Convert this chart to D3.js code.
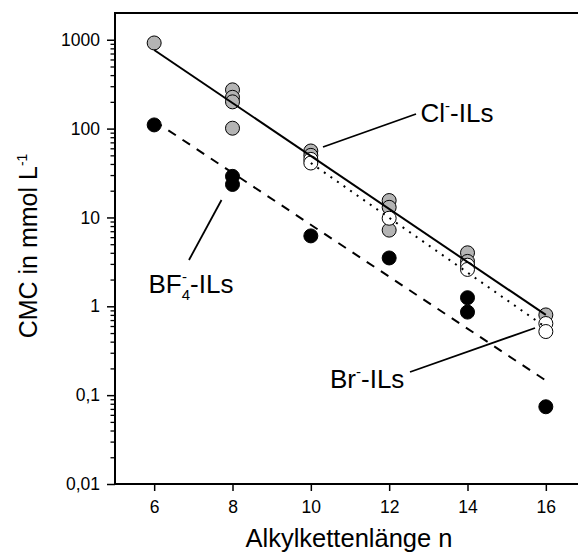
<!DOCTYPE html>
<html><head><meta charset="utf-8">
<script src="https://cdn.jsdelivr.net/npm/d3@7"></script>
<style>
html,body{margin:0;padding:0;background:#fff;}
svg{display:block;font-family:Arial,"Liberation Sans",Helvetica,sans-serif;}
</style></head><body>
<svg id="chart" width="578" height="555"></svg>
<script>
// Alkyl chain length n (x) against CMC in mmol/L (log y)
const xTicks = [6, 8, 10, 12, 14, 16];
const yTicks = [0.01, 0.1, 1, 10, 100, 1000];
const yTickLabels = ["0,01", "0,1", "1", "10", "100", "1000"];

// chloride ILs (grey markers)
const clN   = [6, 8, 8, 8, 8, 10, 10, 12, 12, 12, 14, 14, 16];
const clCMC = [920, 273, 225, 200, 101, 56, 50, 15.5, 13, 7.2, 4.0, 3.2, 0.80];
// bromide ILs (open markers)
const brN   = [10, 10, 12, 14, 14, 16, 16];
const brCMC = [45, 41, 9.8, 2.9, 2.6, 0.64, 0.52];
// tetrafluoroborate ILs (black markers)
const bfN   = [6, 8, 8, 10, 12, 14, 14, 16];
const bfCMC = [110, 29, 23.5, 6.2, 3.5, 1.25, 0.86, 0.074];

// log-linear regression lines (end points)
const clFitN = [6, 16],  clFitCMC = [766, 0.80];
const brFitN = [10, 16], brFitCMC = [41, 0.58];
const bfFitN = [6, 16],  bfFitCMC = [122, 0.146];

const svg = d3.select("#chart");
const pLeft = 115, pRight = 585, pTop = 13, pBottom = 484;

const x = d3.scaleLinear().domain([5, 17]).range([pLeft, pRight]);
const y = d3.scaleLog().domain([0.01, 2000]).range([pBottom, pTop]);

// minor log ticks
const minor = [];
for (let e = -2; e <= 2; e++) {
  for (let k = 2; k <= 9; k++) {
    const v = k * Math.pow(10, e);
    if (v < 1000) minor.push(v);
  }
}

const yMinor = svg.append("g").attr("transform", `translate(${pLeft},0)`)
  .call(d3.axisLeft(y).tickValues(minor).tickSize(4.5).tickFormat(""));
yMinor.select(".domain").remove();
yMinor.selectAll("line").attr("stroke-width", 1.3);

const yAxis = svg.append("g").attr("transform", `translate(${pLeft},0)`)
  .call(d3.axisLeft(y).tickValues(yTicks).tickSize(8).tickPadding(7)
    .tickFormat((d, i) => yTickLabels[i]));
yAxis.select(".domain").remove();
yAxis.selectAll("line").attr("stroke-width", 1.5);
yAxis.selectAll("text").attr("font-size", 17.5).attr("font-family", null).attr("fill", "#000");

const xAxis = svg.append("g").attr("transform", `translate(0,${pBottom})`)
  .call(d3.axisBottom(x).tickValues(xTicks).tickSize(7).tickPadding(9.5));
xAxis.select(".domain").remove();
xAxis.selectAll("line").attr("stroke-width", 1.5);
xAxis.selectAll("text").attr("font-size", 17.5).attr("font-family", null).attr("fill", "#000");

// plot frame
svg.append("rect")
  .attr("x", pLeft).attr("y", pTop)
  .attr("width", pRight - pLeft).attr("height", pBottom - pTop)
  .attr("fill", "none").attr("stroke", "#000").attr("stroke-width", 2);

// markers
function markers(ns, vs, fill) {
  svg.append("g").selectAll("circle")
    .data(ns.map((n, i) => ({ n, v: vs[i] })))
    .join("circle")
    .attr("cx", d => x(d.n)).attr("cy", d => y(d.v)).attr("r", 7)
    .attr("fill", fill).attr("stroke", "#000").attr("stroke-width", 1);
}
markers(clN, clCMC, "#b4b4b4");
markers(brN, brCMC, "#ffffff");
markers(bfN, bfCMC, "#000000");

// regression lines
const line = d3.line().x(d => x(d.n)).y(d => y(d.v));
function fit(ns, vs, dash) {
  svg.append("path")
    .datum(ns.map((n, i) => ({ n, v: vs[i] })))
    .attr("d", line).attr("fill", "none").attr("stroke", "#000")
    .attr("stroke-width", 2).attr("stroke-dasharray", dash);
}
fit(clFitN, clFitCMC, null);
fit(bfFitN, bfFitCMC, "9,8");
fit(brFitN, brFitCMC, "2,6");

// series labels with leader lines
const leaders = [
  [323, 147, 416, 114],
  [221.5, 200, 189, 260],
  [410, 372, 535, 328]
];
svg.append("g").selectAll("line").data(leaders).join("line")
  .attr("x1", d => d[0]).attr("y1", d => d[1])
  .attr("x2", d => d[2]).attr("y2", d => d[3])
  .attr("stroke", "#000").attr("stroke-width", 1.8);

const fs = 26, sfs = 15;
const cl = svg.append("text").attr("x", 420.5).attr("y", 122).attr("font-size", fs);
cl.append("tspan").text("Cl");
cl.append("tspan").attr("font-size", sfs).attr("dy", -11).text("-");
cl.append("tspan").attr("dy", 11).text("-ILs");

const bf = svg.append("text").attr("x", 148.5).attr("y", 293).attr("font-size", fs);
bf.append("tspan").text("BF");
bf.append("tspan").attr("font-size", sfs).attr("dy", 7).text("4");
bf.append("tspan").attr("font-size", sfs).attr("dx", -8).attr("dy", -18).text("-");
bf.append("tspan").attr("dx", 3).attr("dy", 11).text("-ILs");

const br = svg.append("text").attr("x", 330).attr("y", 388).attr("font-size", fs);
br.append("tspan").text("Br");
br.append("tspan").attr("font-size", sfs).attr("dy", -11).text("-");
br.append("tspan").attr("dy", 11).text("-ILs");

// axis titles
svg.append("text").attr("x", 349).attr("y", 547).attr("text-anchor", "middle")
  .attr("font-size", 25.5).text("Alkylkettenlänge n");

const yt = svg.append("text")
  .attr("transform", "translate(37,246) rotate(-90)")
  .attr("text-anchor", "middle").attr("font-size", 25);
yt.append("tspan").text("CMC in mmol L");
yt.append("tspan").attr("font-size", 14).attr("dy", -10).text("-1");
</script>
</body></html>
